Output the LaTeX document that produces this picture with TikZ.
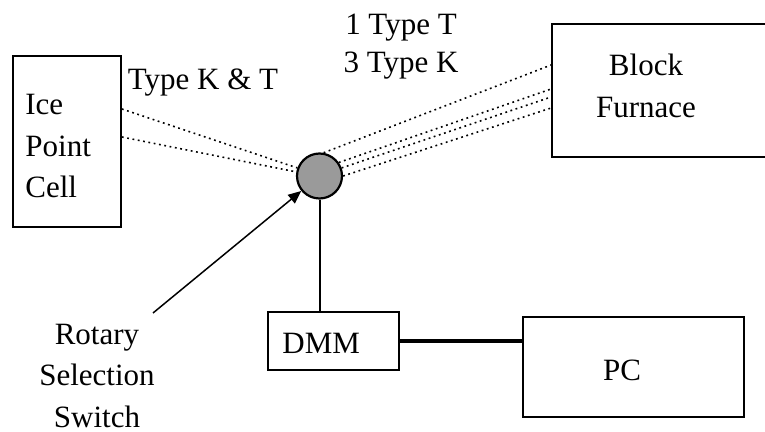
\documentclass[tikz,border=0pt]{standalone}
\usepackage{fontspec}
\setmainfont{Liberation Serif}
\usetikzlibrary{arrows.meta, calc}
\definecolor{switchGray}{HTML}{9A9A9A}

\begin{document}
\begin{tikzpicture}[
    x=0.5pt, y=-0.5pt,
    >={Triangle[length=6.5pt, width=5.5pt]},
    unit/.style={draw, line width=0.9pt, inner sep=0pt},
    switch/.style={circle, draw, line width=1.1pt, fill=switchGray,
                   minimum size=22.5pt, inner sep=0pt},
    txt/.style={font=\fontsize{15.5}{20.75}\selectfont, inner sep=0pt},
    tc/.style={line width=0.8pt, dash pattern=on 0.9pt off 1.8pt},
  ]
    \clip (0,0) rectangle (765,432);

    % Units
    \node[unit, minimum width=54pt, minimum height=85.5pt] (ice) at (67,141.5) {};
    \node[unit, minimum width=124pt, minimum height=66.5pt] (furnace) at (676,90.5) {};
    \node[switch] (sel) at (319.5,176) {};
    \node[unit, minimum width=65.5pt, minimum height=29pt] (dmm) at (333.5,341) {};
    \node[unit, minimum width=110.5pt, minimum height=50pt] (pc) at (633.5,367) {};

    % Labels
    \node[txt, align=left, anchor=west] (iceLbl) at (25,146.5) {Ice\\Point\\Cell};
    \node[txt, align=center] (furnLbl) at (646,86) {Block\\Furnace};
    \node[txt, anchor=base] (ktLbl) at (203,90) {Type K \& T};
    \node[txt, align=center, font=\fontsize{15.5}{19}\selectfont] (tkLbl) at (401,47)
      {1 Type T\\3 Type K};
    \node[txt, anchor=west] (dmmLbl) at (282,343) {DMM};
    \node[txt] (pcLbl) at (622,370) {PC};
    \node[txt, align=center] (swLbl) at (97,376) {Rotary\\Selection\\Switch};
    \coordinate (swTail) at (153,313);

    % Thermocouples
    \draw[tc] ($(ice.east)+(0,-32.5)$) -- (sel.160);
    \draw[tc] ($(ice.east)+(0,-4.5)$) -- (sel.170);
    \draw[tc] (sel.80) -- ($(furnace.west)+(0,-25.5)$);
    \draw[tc] (sel.35) -- ($(furnace.west)+(0,-1.5)$);
    \draw[tc] (sel.20) -- ($(furnace.west)+(0,6.5)$);
    \draw[tc] (sel.0) -- ($(furnace.west)+(0,17.5)$);

    % Switch, meter and PC
    \draw[->, line width=0.75pt] (swTail) -- (sel);
    \draw[line width=1pt] (sel.south) -- (sel.south |- dmm.north);
    \draw[line width=2pt] (dmm.east) -- (dmm.east -| pc.west);
\end{tikzpicture}
\end{document}
